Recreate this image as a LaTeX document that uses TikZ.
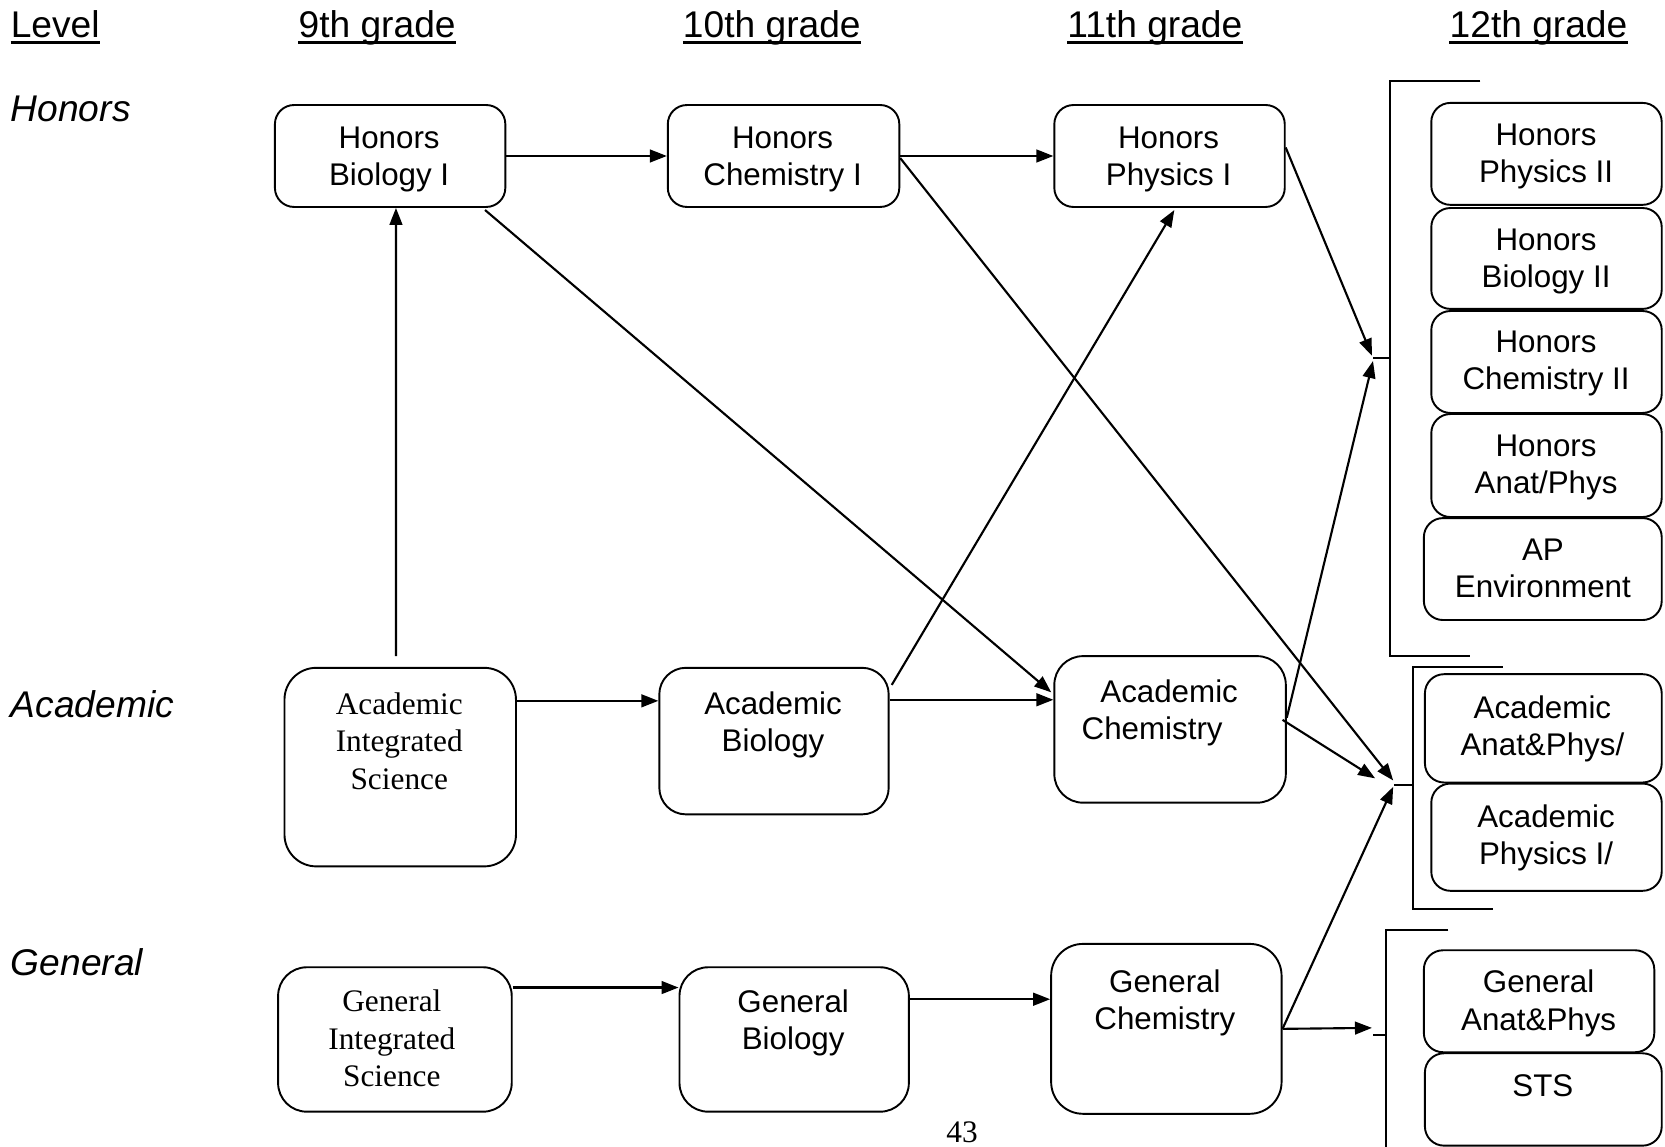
\documentclass[tikz,border=0pt]{standalone}
\usepackage{fontspec}
\setmainfont{Liberation Sans}
\newfontfamily\timesf{Liberation Serif}
\usetikzlibrary{arrows.meta,calc}
\tikzset{
 box/.style={draw, line width=1.8bp, rounded corners=18bp, anchor=north west, inner sep=0pt},
 txt/.style={align=center, inner sep=0pt, font=\fontsize{29.5bp}{35bp}\selectfont},
 stxt/.style={align=center, inner sep=0pt, font=\timesf\fontsize{29.5bp}{35.5bp}\selectfont},
 hdr/.style={anchor=base west, inner sep=0pt, font=\fontsize{35bp}{40bp}\selectfont},
 lvl/.style={anchor=west, inner sep=0pt, font=\itshape\fontsize{35bp}{40bp}\selectfont},
 arr/.style={line width=2bp, -{Triangle[length=16bp,width=12bp]}},
 brk/.style={line width=1.8bp},
 uline/.style={line width=2.2bp},
}
\newcommand\cbox[6][18]{\node[box, rounded corners=#1bp, minimum width=#5bp, minimum height=#6bp] (#2) at (#3,#4) {};}
\begin{document}
\begin{tikzpicture}[x=1bp,y=-1bp]
\useasboundingbox (0,0) rectangle (1568,1080);
% headers
\node[hdr] (hlev) at (10,35) {Level};
\node[hdr] (h9) at (281,35) {9th grade};
\node[hdr] (h10) at (643,35) {10th grade};
\node[hdr] (h11) at (1005,35) {11th grade};
\node[hdr] (h12) at (1365,35) {12th grade};
\foreach \h in {hlev,h9,h10,h11,h12}
  \draw[uline] ($(\h.base west)+(0,5)$) -- ($(\h.base east)+(0,5)$);
% level labels
\node[lvl] (lhon) at (10,103) {Honors};
\node[lvl] (lacad) at (10,663) {Academic};
\node[lvl] (lgen) at (10,906) {General};
% boxes
\cbox{hb1}{258}{98}{217}{96}
\cbox{hc1}{628}{98}{218}{96}
\cbox{hp1}{992}{98}{217}{96}
\cbox[30]{ais}{267}{628}{218}{187}
\cbox[25]{ab}{620}{628}{216}{138}
\cbox[27]{ac}{992}{617}{218}{138}
\cbox[27]{gis}{261}{910}{220}{136}
\cbox[27]{gb}{639}{910}{216}{136}
\cbox[30]{gc}{989}{888}{217}{160}
\cbox{hp2}{1347}{96}{217}{96}
\cbox{hb2}{1347}{195}{217}{95}
\cbox{hc2}{1347}{292}{217}{96}
\cbox{hap}{1347}{389}{217}{97}
\cbox{ape}{1340}{487}{224}{96}
\cbox{aap}{1341}{634}{223}{102}
\cbox{api}{1347}{737}{217}{101}
\cbox{gap}{1340}{894}{217}{96}
\cbox{sts}{1341}{991}{223}{87}
% texts
\node[txt] (hb1t) at (366.5,150) {Honors\\Biology I};
\node[txt] (hc1t) at (737,150) {Honors\\Chemistry I};
\node[txt] (hp1t) at (1100.5,150) {Honors\\Physics I};
\node[stxt] (aist) at (376,698) {Academic\\Integrated\\Science};
\node[txt] (abt) at (728,682.5) {Academic\\Biology};
\node[txt] (act) at (1085,671.5) {\hspace*{32bp}Academic\\Chemistry};
\node[stxt] (gist) at (369,978) {General\\Integrated\\Science};
\node[txt] (gbt) at (747,963.5) {General\\Biology};
\node[txt] (gct) at (1097,944.5) {General\\Chemistry};
\node[txt] (hp2t) at (1456,147) {Honors\\Physics II};
\node[txt] (hb2t) at (1456,246) {Honors\\Biology II};
\node[txt] (hc2t) at (1456,342) {Honors\\Chemistry II};
\node[txt] (hapt) at (1456,440) {Honors\\Anat/Phys};
\node[txt] (apet) at (1453,535) {AP\\Environment};
\node[txt] (aapt) at (1452.5,686.5) {Academic\\Anat\&Phys/};
\node[txt] (apit) at (1456,789) {Academic\\Physics I/};
\node[txt] (gapt) at (1449,945) {General\\Anat\&Phys};
\node[txt] (stst) at (1453,1022) {STS};
\node[stxt] (pg) at (906,1066) {43};
% brackets
\coordinate (hbr) at (1293,337);
\coordinate (abr) at (1313,739);
\coordinate (gbr) at (1293,975);
\draw[brk] (1394,76) -- (1309,76) -- (1309,618) -- (1384,618);
\draw[brk] (hbr) -- (1309,337);
\draw[brk] (1415,628) -- (1331,628) -- (1331,856) -- (1406,856);
\draw[brk] (abr) -- (1331,739);
\draw[brk] (1364,876) -- (1305,876) -- (1305,1080);
\draw[brk] (gbr) -- (1305,975);
% connectors
\draw[arr] (hb1.east) -- (hc1.west);
\draw[arr] (hc1.east) -- (hp1.west);
\draw[arr] ($(ais.north)+(-4,-10)$) -- ($(hb1.south)+(5.5,0)$);
\draw[arr] ($(ais.north east)+(0,32)$) -- ($(ab.north west)+(0,32)$);
\draw[arr] ($(ab.north east)+(0,31)$) -- ($(ac.north west)+(0,42)$);
\draw[arr] ($(hb1.south east)+(-20,2)$) -- ($(ac.north west)+(-2,35)$);
\draw[arr] ($(hc1.east)+(0,2)$) -- ($(abr)+(-1,-4)$);
\draw[arr] ($(hp1.east)+(0,-8)$) -- ($(hbr)+(-1,-2)$);
\draw[arr] ($(ac.east)+(0,-11)$) -- ($(hbr)+(0,3)$);
\draw[arr] ($(ac.east)+(-4,-9)$) -- ($(abr)+(-18,-6)$);
\draw[arr] ($(ab.north east)+(2,17)$) -- ($(hp1.south)+(4.5,2)$);
\draw[arr] (gc.east) -- ($(abr)+(-1,2)$);
\draw[arr] (gc.east) -- ($(gbr)+(-1,-7)$);
\draw[arr] ($(gis.north east)+(0,20)$) -- ($(gb.north west)+(0,20)$);
\draw[arr] ($(gb.north east)+(0,31)$) -- ($(gc.north west)+(0,53)$);
\end{tikzpicture}
\end{document}
